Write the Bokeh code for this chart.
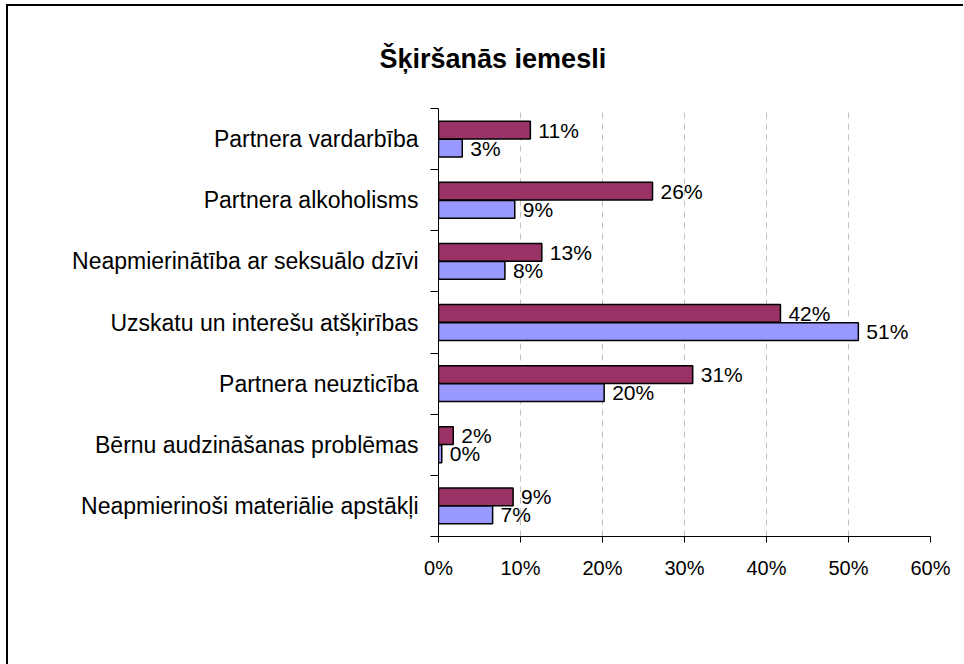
from bokeh.plotting import figure
from bokeh.layouts import column
from bokeh.models import (ColumnDataSource, FixedTicker, PrintfTickFormatter,
                          Legend, LegendItem, Range1d)
from bokeh.core.properties import value
from bokeh.embed import file_html
from bokeh.resources import INLINE

# ---- data ----
title_text = "Šķiršanās iemesli"
categories = [
    "Partnera vardarbība",
    "Partnera alkoholisms",
    "Neapmierinātība ar seksuālo dzīvi",
    "Uzskatu un interešu atšķirības",
    "Partnera neuzticība",
    "Bērnu audzināšanas problēmas",
    "Neapmierinoši materiālie apstākļi",
]
laulība = [11.2, 26.1, 12.6, 41.7, 31.0, 1.8, 9.1]
partnerattiecības = [2.9, 9.3, 8.1, 51.2, 20.2, 0.4, 6.6]
series_names = ["Partnerattiecības", "Laulība"]
x_ticks = [0, 10, 20, 30, 40, 50, 60]

FONT = "Liberation Sans"
C_LAUL = "#993366"
C_PART = "#9999FF"

n = len(categories)
centers = [n - i - 0.5 for i in range(n)]
bounds = list(range(n + 1))
bar_h = 0.29
off = 0.148

src_l = ColumnDataSource(dict(y=[c + off for c in centers], v=laulība,
                              lab=[f"{round(v)}%" for v in laulība]))
src_p = ColumnDataSource(dict(y=[c - off for c in centers], v=partnerattiecības,
                              lab=[f"{round(v)}%" for v in partnerattiecības]))

p = figure(frame_width=492, frame_height=428, output_backend="svg",
           toolbar_location=None,
           x_range=Range1d(0, 60), y_range=Range1d(0, n),
           min_border_left=430, min_border_right=33,
           min_border_top=102, min_border_bottom=44)
p.outline_line_color = None
p.background_fill_color = "white"
p.border_fill_color = "white"

# title
p.title.text = title_text
p.title.text_font = FONT
p.title.text_font_size = "27px"
p.title.text_font_style = "bold"
p.title.text_color = "black"
p.title.align = "left"
p.title.offset = -59
p.title.standoff = 70

rl = p.hbar(y="y", right="v", left=0, height=bar_h, source=src_l,
            fill_color=C_LAUL, line_color="black", line_width=1.5)
rp = p.hbar(y="y", right="v", left=0, height=bar_h, source=src_p,
            fill_color=C_PART, line_color="black", line_width=1.5)

for s in (src_l, src_p):
    p.text(x="v", y="y", text="lab", source=s, x_offset=8,
           text_baseline="middle", text_align="left",
           text_font=value(FONT), text_font_size="21px", text_color="black")

# x axis
p.xaxis.ticker = FixedTicker(ticks=x_ticks)
p.xaxis.formatter = PrintfTickFormatter(format="%d%%")
p.xaxis.major_label_text_font = FONT
p.xaxis.major_label_text_font_size = "20px"
p.xaxis.major_label_text_color = "black"
p.xaxis.major_tick_in = 0
p.xaxis.major_tick_out = 6
p.xaxis.minor_tick_line_color = None
p.xaxis.major_label_standoff = 14
p.xaxis.axis_line_color = "black"
p.xaxis.major_tick_line_color = "black"

# y axis: labels at category centres, ticks at boundaries
p.yaxis.ticker = FixedTicker(ticks=centers, minor_ticks=bounds)
p.yaxis.major_label_overrides = {c: categories[i] for i, c in enumerate(centers)}
p.yaxis.major_label_text_font = FONT
p.yaxis.major_label_text_font_size = "23px"
p.yaxis.major_label_text_color = "black"
p.yaxis.major_tick_line_color = None
p.yaxis.minor_tick_line_color = "black"
p.yaxis.minor_tick_in = 0
p.yaxis.minor_tick_out = 8
p.yaxis.major_label_standoff = 12
p.yaxis.axis_line_color = "black"

p.xgrid.ticker = FixedTicker(ticks=x_ticks)
p.xgrid.grid_line_color = "#c0c0c0"
p.xgrid.grid_line_dash = "6 5"
p.ygrid.grid_line_color = None

# legend strip below the chart (same bar styles, no data of its own)
p2 = figure(width=955, height=84, output_backend="svg", toolbar_location=None,
            x_axis_location=None, y_axis_location=None,
            x_range=Range1d(0, 1), y_range=Range1d(0, 1), min_border=0)
p2.outline_line_color = None
p2.grid.grid_line_color = None
p2.background_fill_color = "white"
p2.border_fill_color = "white"
empty = ColumnDataSource(dict(y=[], v=[]))
lp = p2.hbar(y="y", right="v", left=0, height=bar_h, source=empty,
             fill_color=C_PART, line_color="black", line_width=1.5)
ll = p2.hbar(y="y", right="v", left=0, height=bar_h, source=empty,
             fill_color=C_LAUL, line_color="black", line_width=1.5)

legend = Legend(items=[LegendItem(label=series_names[0], renderers=[lp]),
                       LegendItem(label=series_names[1], renderers=[ll])],
                orientation="horizontal", location=(498, 4),
                label_text_font=FONT, label_text_font_size="23px",
                glyph_width=17, glyph_height=17, label_standoff=9,
                spacing=30, padding=8, margin=0,
                border_line_color="black", border_line_width=1,
                background_fill_color="white", background_fill_alpha=1)
p2.add_layout(legend, "center")

layout = column(p, p2, spacing=0,
                styles={"border-top": "2px solid black",
                        "border-left": "2px solid black",
                        "margin-left": "6px", "margin-top": "4px"})

open("out.html", "w").write(file_html(layout, INLINE))
